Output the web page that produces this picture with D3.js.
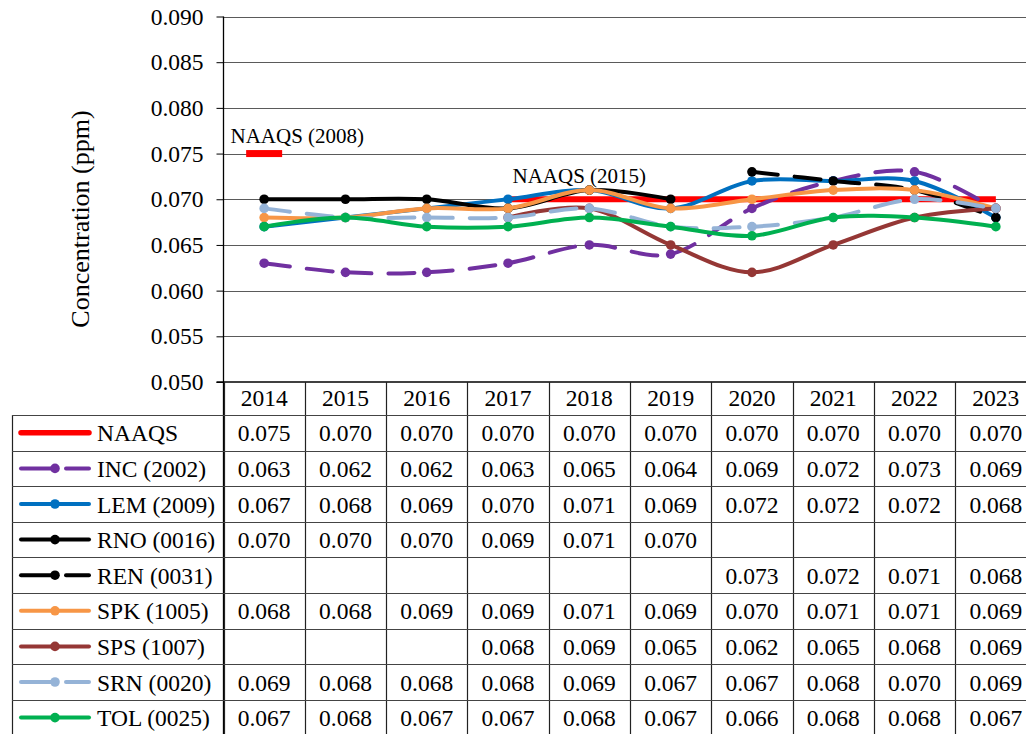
<!DOCTYPE html>
<html><head><meta charset="utf-8">
<script src="https://cdn.jsdelivr.net/npm/d3@7"></script>
<style>
html,body{margin:0;padding:0;background:#fff;}
svg{display:block;font-family:"Liberation Serif","Times New Roman",serif;}
</style></head>
<body>
<svg id="c" width="1026" height="734"></svg>
<script>
const years = [2014,2015,2016,2017,2018,2019,2020,2021,2022,2023];
const yTicks = [0.050,0.055,0.060,0.065,0.070,0.075,0.080,0.085,0.090];
const seriesNames = ["NAAQS","INC (2002)","LEM (2009)","RNO (0016)","REN (0031)","SPK (1005)","SPS (1007)","SRN (0020)","TOL (0025)"];
const naaqs = [0.075,0.070,0.070,0.070,0.070,0.070,0.070,0.070,0.070,0.070];
const inc = [0.063,0.062,0.062,0.063,0.065,0.064,0.069,0.072,0.073,0.069];
const lem = [0.067,0.068,0.069,0.070,0.071,0.069,0.072,0.072,0.072,0.068];
const rno = [0.070,0.070,0.070,0.069,0.071,0.070,null,null,null,null];
const ren = [null,null,null,null,null,null,0.073,0.072,0.071,0.068];
const spk = [0.068,0.068,0.069,0.069,0.071,0.069,0.070,0.071,0.071,0.069];
const sps = [null,null,null,0.068,0.069,0.065,0.062,0.065,0.068,0.069];
const srn = [0.069,0.068,0.068,0.068,0.069,0.067,0.067,0.068,0.070,0.069];
const tol = [0.067,0.068,0.067,0.067,0.068,0.067,0.066,0.068,0.068,0.067];
const annotations = ["NAAQS (2008)","NAAQS (2015)"];
const naaqs2008Year = 2014;
const naaqs2015LineStart = 2017;

const seriesValues = [naaqs,inc,lem,rno,ren,spk,sps,srn,tol];
const styles = [
  {color:"#FF0000", dashed:false, marker:false, width:6},
  {color:"#7030A0", dashed:true, marker:true, width:4},
  {color:"#0070C0", dashed:false, marker:true, width:4},
  {color:"#000000", dashed:false, marker:true, width:4},
  {color:"#000000", dashed:true, marker:true, width:4},
  {color:"#F79646", dashed:false, marker:true, width:4},
  {color:"#953735", dashed:false, marker:true, width:4},
  {color:"#95B3D7", dashed:true, marker:true, width:4},
  {color:"#00B050", dashed:false, marker:true, width:4}
];

const svg = d3.select("#c");
const left = 223.5, colW = 81.3;
const x = d3.scaleBand().domain(years).range([left, left + colW*years.length]);
const cx = d => x(d) + x.bandwidth()/2;
const y = d3.scaleLinear().domain([0.050,0.090]).range([382,16.5]);
const fmt = d3.format(".3f");

// gridlines
svg.append("g").selectAll("line").data(yTicks.slice(1)).join("line")
  .attr("x1",left).attr("x2",1026).attr("y1",d=>Math.round(y(d))+0.5).attr("y2",d=>Math.round(y(d))+0.5)
  .attr("stroke","#5a5a5a").attr("stroke-width",1);

// y axis
const yAxis = d3.axisLeft(y).tickValues(yTicks).tickFormat(fmt).tickSize(7).tickPadding(13);
const ga = svg.append("g").attr("transform",`translate(${left},0)`).call(yAxis);
ga.select(".domain").remove();
ga.selectAll(".tick line").attr("stroke","#000");
ga.selectAll(".tick text").attr("font-size","23.5px").attr("font-family","Liberation Serif, Times New Roman, serif").attr("fill","#000");
svg.append("line").attr("x1",left).attr("x2",left).attr("y1",16.5).attr("y2",734).attr("stroke","#000").attr("stroke-width",1.3);
svg.append("line").attr("x1",left-7).attr("x2",1026).attr("y1",382).attr("y2",382).attr("stroke","#000").attr("stroke-width",1.3);

// y title
svg.append("text").attr("transform","translate(80,219) rotate(-90)").attr("text-anchor","middle")
  .attr("dominant-baseline","central").attr("font-size","26px").text("Concentration (ppm)");

// annotation marker and labels
const i2008 = years.indexOf(naaqs2008Year);
svg.append("rect").attr("x",cx(naaqs2008Year)-18).attr("y",y(naaqs[i2008])-3.5).attr("width",36).attr("height",7).attr("fill",styles[0].color);
svg.append("text").attr("x",230.5).attr("y",143).attr("font-size","21px").text(annotations[0]);
svg.append("text").attr("x",512.5).attr("y",183).attr("font-size","21px").text(annotations[1]);

// series
function segs(vals){
  const pts = [];
  vals.forEach((v,i)=>{ if(v!==null) pts.push([cx(years[i]), y(v)]); });
  return pts;
}
function segmentPaths(pts){
  const out = [];
  for(let i=0;i<pts.length-1;i++){
    const p0 = pts[i-1]||pts[i], p1 = pts[i], p2 = pts[i+1], p3 = pts[i+2]||pts[i+1];
    const p = d3.path();
    p.moveTo(p1[0],p1[1]);
    p.bezierCurveTo(p1[0]+(p2[0]-p0[0])/6, p1[1]+(p2[1]-p0[1])/6,
                    p2[0]-(p3[0]-p1[0])/6, p2[1]-(p3[1]-p1[1])/6, p2[0], p2[1]);
    out.push(p.toString());
  }
  return out;
}
const line = d3.line().curve(d3.curveCardinal.tension(0));
const gS = svg.append("g");
seriesValues.forEach((vals,si)=>{
  const st = styles[si];
  let v = vals;
  if(si===0) v = vals.map((d,i)=> years[i] < naaqs2015LineStart ? null : d);
  const pts = segs(v);
  const g = gS.append("g");
  if(st.dashed){
    segmentPaths(pts).forEach(d=>{
      g.append("path").attr("d",d).attr("fill","none").attr("stroke",st.color).attr("stroke-width",st.width)
        .attr("stroke-dasharray","26,17").attr("stroke-linecap","round");
    });
  } else {
    g.append("path").attr("d",line(pts)).attr("fill","none").attr("stroke",st.color).attr("stroke-width",st.width)
      .attr("stroke-linejoin","round").attr("stroke-linecap",si===0?"butt":"round");
  }
  if(st.marker){
    g.selectAll("circle").data(pts).join("circle").attr("cx",d=>d[0]).attr("cy",d=>d[1]).attr("r",4.8).attr("fill",st.color);
  }
});

// table
const rowTop = 415, rowH = 35.6;
const tg = svg.append("g");
years.forEach((yr,i)=>{
  tg.append("text").attr("x",cx(yr)).attr("y",406).attr("text-anchor","middle").attr("font-size","23.5px").text(yr);
});
const vx = d3.range(years.length+1).map(i=> left + i*colW);
vx.forEach(xx=>{
  tg.append("line").attr("x1",Math.round(xx)+0.5).attr("x2",Math.round(xx)+0.5).attr("y1",382).attr("y2",734).attr("stroke","#222").attr("stroke-width",1.2);
});
tg.append("line").attr("x1",12.5).attr("x2",12.5).attr("y1",rowTop).attr("y2",734).attr("stroke","#222").attr("stroke-width",1.2);
for(let r=0;r<=seriesNames.length;r++){
  const yy = Math.round(rowTop + r*rowH)+0.5;
  tg.append("line").attr("x1",12).attr("x2",1026).attr("y1",yy).attr("y2",yy).attr("stroke","#444").attr("stroke-width",1.2);
}
function legendWidth(st){ return st.marker ? st.width : 5.5; }
seriesNames.forEach((nm,r)=>{
  const st = styles[r];
  const yc = rowTop + r*rowH + rowH/2;
  const lg = tg.append("g");
  if(st.dashed){
    lg.append("line").attr("x1",21).attr("x2",55).attr("y1",yc).attr("y2",yc).attr("stroke",st.color).attr("stroke-width",4).attr("stroke-linecap","round");
    lg.append("line").attr("x1",66).attr("x2",89).attr("y1",yc).attr("y2",yc).attr("stroke",st.color).attr("stroke-width",4).attr("stroke-linecap","round");
  } else {
    lg.append("line").attr("x1",21).attr("x2",89).attr("y1",yc).attr("y2",yc).attr("stroke",st.color).attr("stroke-width",legendWidth(st)).attr("stroke-linecap","round");
  }
  if(st.marker) lg.append("circle").attr("cx",55).attr("cy",yc).attr("r",4.8).attr("fill",st.color);
  tg.append("text").attr("x",97).attr("y",yc+8.5).attr("font-size","23.5px").text(nm);
  seriesValues[r].forEach((v,i)=>{
    if(v===null) return;
    tg.append("text").attr("x",cx(years[i])).attr("y",yc+8.5).attr("text-anchor","middle").attr("font-size","23.5px").text(fmt(v));
  });
});
</script>
</body></html>
